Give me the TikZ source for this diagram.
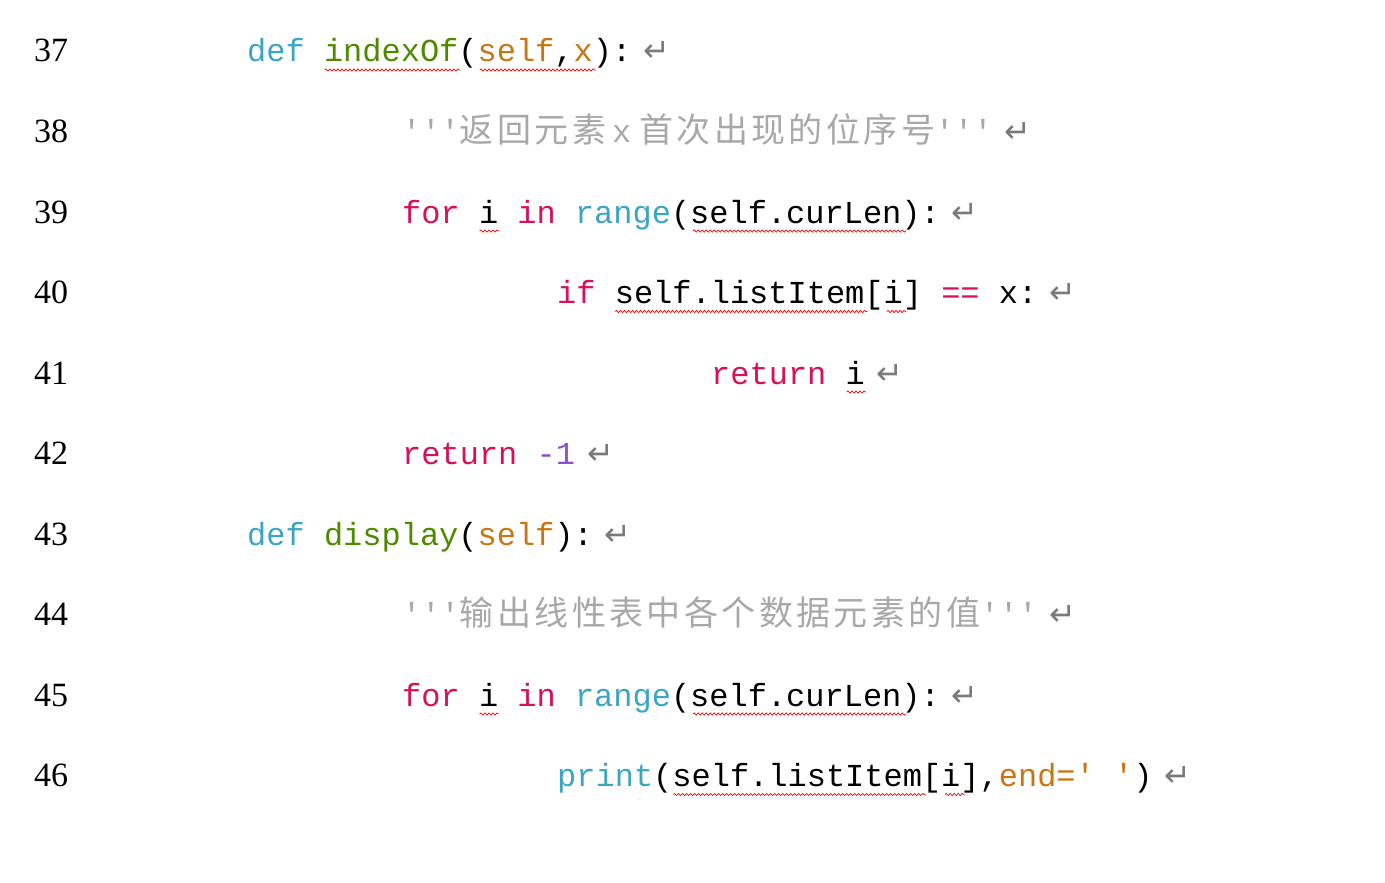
\documentclass[tikz,border=0pt]{standalone}
\usepackage{fontspec}
\setmonofont{Liberation Mono}
\setmainfont{Liberation Serif}
\newfontfamily\cjk{Noto Sans CJK SC}
\newfontfamily\dv{DejaVu Sans}
\usetikzlibrary{decorations.pathmorphing}
\definecolor{kw}{HTML}{D6105A}
\definecolor{df}{HTML}{3AA6C4}
\definecolor{fn}{HTML}{4E8A00}
\definecolor{sf}{HTML}{C87514}
\definecolor{cm}{HTML}{A8A8A8}
\definecolor{pu}{HTML}{8A4FD0}
\definecolor{ar}{HTML}{7A7A7A}
\newcommand\K[1]{\textcolor{kw}{#1}}
\newcommand\D[1]{\textcolor{df}{#1}}
\newcommand\F[1]{\textcolor{fn}{#1}}
\newcommand\Sf[1]{\textcolor{sf}{#1}}
\newcommand\Ret{\hspace{12pt}\textcolor{ar}{\dv\fontsize{32}{32}\selectfont ↵}}
\newcommand\C[1]{{\cjk\fontsize{34}{34}\selectfont\addfontfeatures{LetterSpace=10} #1}}
\begin{document}
\begin{tikzpicture}[x=1pt,y=-1pt,
  code/.style={anchor=base west,inner sep=0pt,font=\ttfamily\fontsize{32}{32}\selectfont},
  num/.style={anchor=base west,inner sep=0pt,font=\rmfamily\fontsize{34}{34}\selectfont},
  wv/.style={draw=red,line width=0.7pt,decorate,decoration={snake,segment length=4pt,amplitude=1.1pt}}]
\useasboundingbox (0,0) rectangle (1385,883);
\def\cw{19.4}
\foreach \n [count=\k from 0] in {37,...,46}
  \node[num] (n\n) at (34,{62+\k*80.5}) {\n};
\node[code] (l37) at (247,62) {\D{def} \F{indexOf}(\Sf{self},\Sf{x}):\Ret};
\node[code] (l38) at (402,142.5) {\textcolor{cm}{'''\C{返回元素}\hspace{6pt}x\hspace{8pt}\C{首次出现的位序号}'''}\Ret};
\node[code] (l39) at (402,223) {\K{for} i \K{in} \D{range}(self.curLen):\Ret};
\node[code] (l40) at (557,303.5) {\K{if} self.listItem[i] \K{==} x:\Ret};
\node[code] (l41) at (711,384) {\K{return} i\Ret};
\node[code] (l42) at (402,464.5) {\K{return} \textcolor{pu}{-1}\Ret};
\node[code] (l43) at (247,545) {\D{def} \F{display}(\Sf{self}):\Ret};
\node[code] (l44) at (402,625.5) {\textcolor{cm}{'''\C{输出线性表中各个数据元素的值}'''}\Ret};
\node[code] (l45) at (402,706) {\K{for} i \K{in} \D{range}(self.curLen):\Ret};
\node[code] (l46) at (557,786.5) {\D{print}(self.listItem[i],\Sf{end='} \Sf{'})\Ret};
% wavy underlines
\draw[wv] (247+4*\cw,70) -- (247+11*\cw,70);
\draw[wv] (247+12*\cw,70) -- (247+18*\cw,70);
\foreach \y in {231,714}{
  \draw[wv] (402+4*\cw,\y) -- (402+5*\cw,\y);
  \draw[wv] (402+15*\cw,\y) -- (402+26*\cw,\y);}
\draw[wv] (557+3*\cw,311.5) -- (557+16*\cw,311.5);
\draw[wv] (557+17*\cw,311.5) -- (557+18*\cw,311.5);
\draw[wv] (711+7*\cw,392) -- (711+8*\cw,392);
\draw[wv] (557+6*\cw,794.5) -- (557+19*\cw,794.5);
\draw[wv] (557+20*\cw,794.5) -- (557+21*\cw,794.5);
\end{tikzpicture}
\end{document}
